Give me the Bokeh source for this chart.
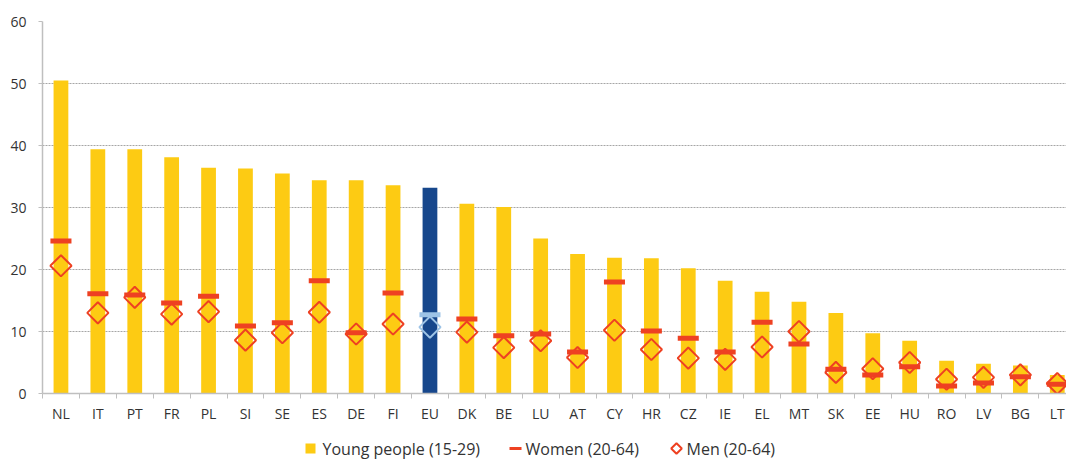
import math
from bokeh.plotting import figure
from bokeh.models import Range1d, FixedTicker, ColumnDataSource
from bokeh.layouts import column
from bokeh.embed import file_html
from bokeh.resources import INLINE
from bokeh.core.properties import value

# ---------------- data ----------------
countries = ["NL", "IT", "PT", "FR", "PL", "SI", "SE", "ES", "DE", "FI", "EU", "DK", "BE", "LU",
             "AT", "CY", "HR", "CZ", "IE", "EL", "MT", "SK", "EE", "HU", "RO", "LV", "BG", "LT"]
young = [50.5, 39.4, 39.4, 38.1, 36.4, 36.3, 35.5, 34.4, 34.4, 33.6, 33.2, 30.6, 30.1, 25.0,
         22.5, 21.9, 21.8, 20.2, 18.2, 16.4, 14.8, 13.0, 9.7, 8.5, 5.3, 4.8, 4.5, 3.0]
women = [24.6, 16.1, 15.9, 14.6, 15.7, 10.9, 11.4, 18.2, 9.8, 16.2, 12.7, 12.0, 9.3, 9.6,
         6.7, 18.0, 10.1, 8.9, 6.7, 11.5, 8.0, 3.9, 3.0, 4.3, 1.2, 1.7, 2.7, 1.5]
men = [20.6, 13.0, 15.5, 12.8, 13.2, 8.6, 9.8, 13.1, 9.6, 11.2, 10.7, 9.9, 7.4, 8.5,
       5.8, 10.2, 7.1, 5.7, 5.5, 7.5, 10.0, 3.4, 4.0, 5.0, 2.3, 2.6, 3.0, 1.6]
y_ticks = [0, 10, 20, 30, 40, 50, 60]
legend_labels = ["Young people (15-29)", "Women (20-64)", "Men (20-64)"]

# ---------------- style ----------------
YELLOW = "#FDCB13"
NAVY = "#17478C"
RED = "#EE4122"
LIGHT = "#9DC3E6"
AXIS = "#BFBFBF"
TEXT = "#333333"
FONT = "Open Sans"
W = 1066
LEFT = 42

idx = list(range(len(countries)))
bar_colors = [NAVY if c == "EU" else YELLOW for c in countries]
mark_colors = [LIGHT if c == "EU" else RED for c in countries]

src = ColumnDataSource(dict(x=idx, young=young, women=women, men=men,
                            bar_color=bar_colors, mark_color=mark_colors))

p = figure(width=W, height=425,
           x_range=Range1d(-0.5, len(countries) - 0.75), y_range=Range1d(0, 60),
           output_backend="svg", toolbar_location=None,
           min_border_left=LEFT, min_border_right=0, min_border_top=21, min_border_bottom=32)
p.outline_line_color = None
p.background_fill_color = "white"

p.vbar(x="x", top="young", width=0.4, fill_color="bar_color", line_color=None, source=src)
p.rect(x="x", y="women", width=0.57, height=5, height_units="screen",
       fill_color="mark_color", line_color=None, source=src)
p.scatter(x="x", y="men", marker="square", size=15, angle=math.pi / 4,
          fill_color=None, line_color="mark_color", line_width=2, source=src)

# x axis
p.xaxis.ticker = FixedTicker(ticks=idx, minor_ticks=[i - 0.5 for i in range(len(countries) + 1)])
p.xaxis.major_label_overrides = {i: c for i, c in enumerate(countries)}
p.xaxis.major_tick_line_color = None
p.xaxis.minor_tick_line_color = AXIS
p.xaxis.minor_tick_out = 5
p.xaxis.minor_tick_in = 0
p.xaxis.major_label_standoff = 4
p.xaxis.axis_line_color = AXIS
p.xaxis.axis_line_width = 1.5

# y axis
p.yaxis.ticker = FixedTicker(ticks=y_ticks)
p.yaxis.major_tick_out = 4
p.yaxis.major_tick_in = 0
p.yaxis.major_tick_line_color = AXIS
p.yaxis.minor_tick_line_color = None
p.yaxis.major_label_standoff = 12
p.yaxis.axis_line_color = AXIS
p.yaxis.axis_line_width = 1.5

for ax in (p.xaxis, p.yaxis):
    ax.major_label_text_font = FONT
    ax.major_label_text_font_size = "14px"
    ax.major_label_text_color = TEXT

p.xgrid.visible = False
p.ygrid.grid_line_color = "#A6A6A6"
p.ygrid.grid_line_dash = "2 1"
p.ygrid.grid_line_width = 1

# ---------------- legend (pixel-space strip; frame aligned with main plot) ----------------
LH = 34
lg = figure(width=W, height=LH, x_range=Range1d(LEFT, W), y_range=Range1d(0, LH),
            output_backend="svg", toolbar_location=None,
            min_border_left=LEFT, min_border_right=0, min_border_top=0, min_border_bottom=0,
            x_axis_type=None, y_axis_type=None)
lg.outline_line_color = None
ly = 11
lg.scatter(x=[310], y=[ly], marker="square", size=10, fill_color=YELLOW, line_color=None)
lg.rect(x=[515], y=[ly], width=12, height=3, fill_color=RED, line_color=None)
lg.scatter(x=[676], y=[ly], marker="square", size=7.5, angle=math.pi / 4,
           fill_color=None, line_color=RED, line_width=2)
lg.text(x=[322, 525, 686], y=[ly, ly, ly], text=legend_labels, text_baseline="middle",
        text_font=value(FONT), text_font_size="16px", text_color=TEXT)

layout = column(p, lg, spacing=0)

open("out.html", "w").write(file_html(layout, INLINE))
